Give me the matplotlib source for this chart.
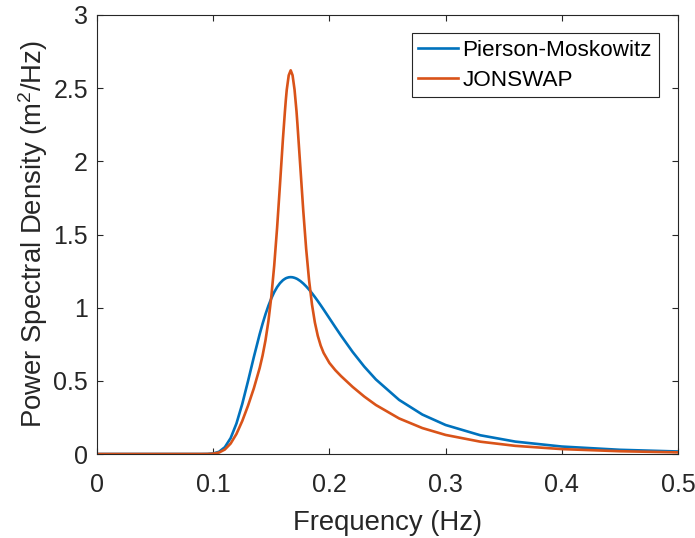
import numpy as np
from matplotlib import pyplot as plt
from matplotlib.ticker import FormatStrFormatter

plt.rcParams.update({
    'font.family': ['Liberation Sans', 'DejaVu Sans'],
    'mathtext.default': 'regular',
    'font.size': 18,
})

# values
freq = [0, 0.05, 0.09, 0.095, 0.10, 0.105, 0.11, 0.115, 0.12, 0.125,
        0.13, 0.135, 0.14, 0.1425, 0.145, 0.1475, 0.15, 0.1525, 0.155, 0.1575,
        0.16, 0.1617, 0.1625, 0.1633, 0.165, 0.1667, 0.1683, 0.17, 0.1717, 0.1725,
        0.175, 0.1775, 0.18, 0.1825, 0.185, 0.1875, 0.19, 0.1925, 0.195, 0.20,
        0.205, 0.21, 0.22, 0.23, 0.24, 0.26, 0.28, 0.30, 0.33, 0.36,
        0.40, 0.45, 0.50]

pierson_moskowitz = [0, 0, 0.00004, 0.0005, 0.0035, 0.0152, 0.0464, 0.1086, 0.2081, 0.3421,
                     0.4990, 0.6634, 0.8192, 0.8904, 0.9551, 1.0128, 1.0631, 1.1057, 1.1406, 1.1678,
                     1.1877, 1.1971, 1.2008, 1.2035, 1.2075, 1.2087, 1.2076, 1.2040, 1.1986, 1.1952,
                     1.1820, 1.1653, 1.1456, 1.1233, 1.0989, 1.0728, 1.0453, 1.0168, 0.9875, 0.9278,
                     0.8679, 0.8090, 0.6974, 0.5972, 0.5095, 0.3697, 0.2695, 0.1982, 0.1278, 0.0847,
                     0.0510, 0.0287, 0.0171]

jonswap = [0, 0, 0.00003, 0.0003, 0.0023, 0.0100, 0.0305, 0.0714, 0.1368, 0.2253,
           0.3308, 0.4494, 0.5878, 0.6731, 0.7768, 0.9074, 1.0746, 1.2868, 1.5468, 1.8450,
           2.1523, 2.3385, 2.4196, 2.4890, 2.5879, 2.6220, 2.5881, 2.4900, 2.3414, 2.2533,
           1.9596, 1.6640, 1.4018, 1.1878, 1.0224, 0.8987, 0.8076, 0.7408, 0.6911, 0.6223,
           0.5736, 0.5325, 0.4585, 0.3926, 0.3349, 0.2430, 0.1772, 0.1303, 0.0840, 0.0557,
           0.0335, 0.0189, 0.0112]

xticks = [0, 0.1, 0.2, 0.3, 0.4, 0.5]
yticks = [0, 0.5, 1, 1.5, 2, 2.5, 3]

BLUE = "#0072BD"
ORANGE = "#D95319"
AXCOLOR = "#262626"

fig = plt.figure(figsize=(6.95, 5.38), dpi=100)
ax = fig.add_axes([97 / 695, 84 / 538, 581 / 695, 439 / 538])

ax.plot(freq, pierson_moskowitz, color=BLUE, linewidth=1.9, label="Pierson-Moskowitz")
ax.plot(freq, jonswap, color=ORANGE, linewidth=1.9, label="JONSWAP")

ax.set_xlim(0, 0.5)
ax.set_ylim(0, 3)
ax.set_xticks(xticks)
ax.set_yticks(yticks)
ax.xaxis.set_major_formatter(FormatStrFormatter('%g'))
ax.yaxis.set_major_formatter(FormatStrFormatter('%g'))
ax.tick_params(direction='in', length=4, width=0.8, colors=AXCOLOR,
               top=True, right=True, labelsize=18)
ax.tick_params(axis='x', pad=13.5)
ax.tick_params(axis='y', pad=6.5)
for s in ax.spines.values():
    s.set_color(AXCOLOR)
    s.set_linewidth(0.8)

ax.set_xlabel("Frequency (Hz)", fontsize=19.8, color=AXCOLOR, labelpad=9.5)
ax.set_ylabel("Power Spectral Density (m$^2$/Hz)", fontsize=19.8, color=AXCOLOR, labelpad=2.5)

leg = ax.legend(loc="upper right", bbox_to_anchor=(0.967, 0.959), borderaxespad=0,
                fontsize=16.2, fancybox=False, framealpha=1, handlelength=1.75,
                handletextpad=0.22, labelspacing=0.4, borderpad=0.3)
leg.get_frame().set_edgecolor(AXCOLOR)
leg.get_frame().set_linewidth(0.8)

plt.savefig("out.png", dpi=100)
